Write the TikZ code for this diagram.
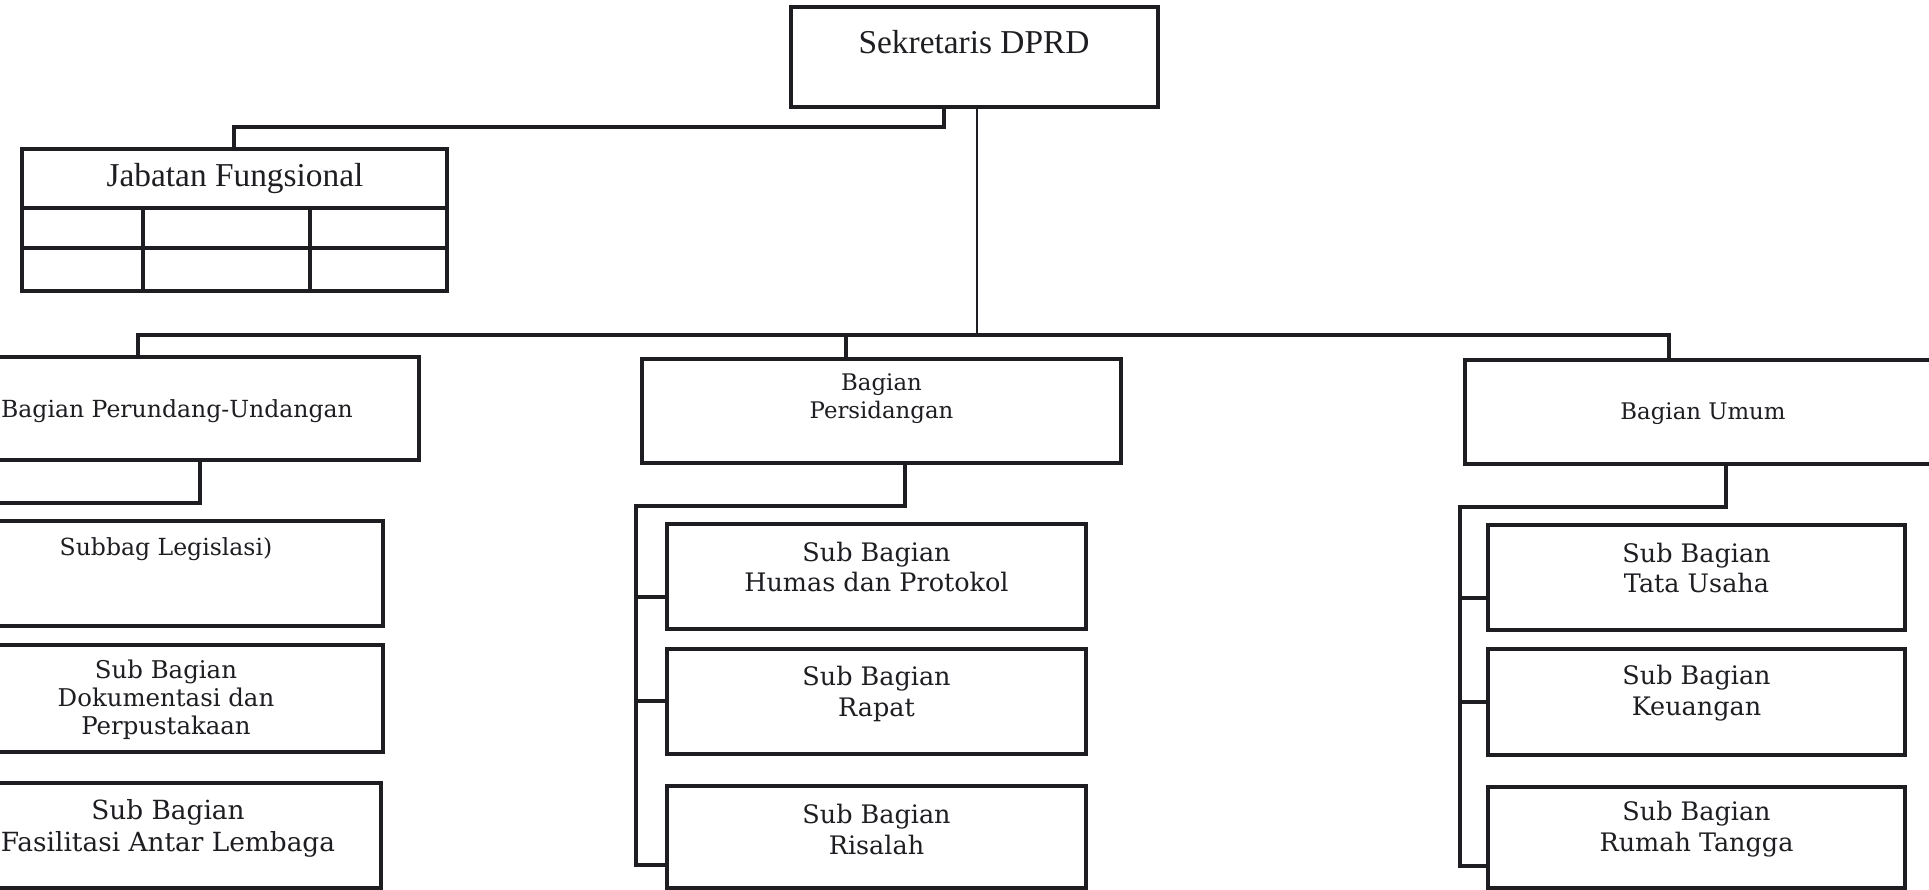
\documentclass[tikz,border=0pt]{standalone}
\usepackage{fontspec}
\setmainfont{DejaVu Serif}
\newfontfamily\headf{Liberation Serif}
\usetikzlibrary{fit}
\definecolor{ink}{HTML}{1E1E22}
\begin{document}
\begin{tikzpicture}[x=0.02cm,y=-0.02cm,
  box/.style={draw=ink, line width=2.1pt, rectangle, inner sep=0pt},
  conn/.style={draw=ink, line width=2pt, line join=miter},
  txt/.style={align=center, inner sep=0pt, text=ink},
  headtxt/.style={txt, font=\headf\fontsize{19}{23}\selectfont},
  subtxt/.style={txt, font=\fontsize{14.5}{17.6}\selectfont},
  bagtxt/.style={txt, font=\fontsize{13}{16}\selectfont}]
\clip (0,0) rectangle (1929,889);
\fill[white] (0,0) rectangle (1929,889);

% top
\node[box, fit={(791,7) (1158,107)}] (sek) {};
\node[headtxt] (sekt) at (974,42) {Sekretaris DPRD};

% jabatan fungsional
\node[box, fit={(22,149) (447,291)}] (jab) {};
\node[headtxt] (jabt) at (235,179) {Jabatan Fungsional};
\draw[box] (jab.west |- 0,208) -- (jab.east |- 0,208);
\draw[box] (jab.west |- 0,248) -- (jab.east |- 0,248);
\draw[box] (143,208) -- (jab.south -| 143,0);
\draw[box] (310,208) -- (jab.south -| 310,0);

% bagian
\node[box, fit={(-70,357) (419,460)}] (per) {};
\node[txt, font=\fontsize{13.4}{16}\selectfont] (pert) at (177,411) {Bagian Perundang-Undangan};
\node[box, fit={(642,359) (1121,463)}] (sid) {};
\node[bagtxt] (sidt) at (881.5,399) {Bagian\\Persidangan};
\node[box, fit={(1465,360) (1941,464)}] (umu) {};
\node[bagtxt] (umut) at (1703,414) {Bagian Umum};

% left sub boxes
\node[box, fit={(-51,521) (383,626)}] (leg) {};
\node[txt, font=\fontsize{13.4}{16}\selectfont] (legt) at (166,549) {Subbag Legislasi)};
\node[box, fit={(-51,645) (383,752)}] (dok) {};
\node[txt, font=\fontsize{13.9}{15.8}\selectfont] (dokt) at (166,700) {Sub Bagian\\Dokumentasi dan\\Perpustakaan};
\node[box, fit={(-51,783) (381,888)}] (fas) {};
\node[txt, font=\fontsize{15}{18.2}\selectfont] (fast) at (168,828) {Sub Bagian\\Fasilitasi Antar Lembaga};

% middle sub boxes
\node[box, fit={(667,524) (1086,629)}] (hum) {};
\node[subtxt] (humt) at (876.5,567) {Sub Bagian\\Humas dan Protokol};
\node[box, fit={(667,649) (1086,754)}] (rap) {};
\node[subtxt] (rapt) at (876.5,693.5) {Sub Bagian\\Rapat};
\node[box, fit={(667,786) (1086,888)}] (ris) {};
\node[subtxt] (rist) at (876.5,829.5) {Sub Bagian\\Risalah};

% right sub boxes
\node[box, fit={(1488,525) (1905,630)}] (tat) {};
\node[subtxt] (tatt) at (1696.5,568) {Sub Bagian\\Tata Usaha};
\node[box, fit={(1488,649) (1905,755)}] (keu) {};
\node[subtxt] (keut) at (1696.5,693.5) {Sub Bagian\\Keuangan};
\node[box, fit={(1488,787) (1905,888)}] (rum) {};
\node[subtxt] (rumt) at (1696.5,829.5) {Sub Bagian\\Rumah Tangga};

% connectors
\coordinate (jbend) at (234,127);
\draw[conn] (sek.south -| 944,0) |- (jbend) -- (jab.north -| jbend);
\coordinate (busL) at (138,335);
\coordinate (busR) at (1669,335);
\coordinate (busM) at (846,335);
\draw[conn, line width=1.5pt] (sek.south -| 977,0) -- (977,335);
\draw[conn] (per.north -| busL) -- (busL) -- (busR) -- (umu.north -| busR);
\draw[conn] (busM) -- (sid.north -| busM);

% left branch (bus runs off the left edge)
\coordinate (lbus) at (-80,503);
\draw[conn] (per.south -| 200,0) |- (lbus);
\draw[conn] (lbus) |- (leg.west);
\draw[conn] (lbus) |- (dok.west);
\draw[conn] (lbus) |- (fas.west);

% middle branch
\coordinate (mbus) at (636,506);
\draw[conn] (sid.south -| 905,0) |- (mbus) |- (ris.west |- 0,865);
\draw[conn] (mbus |- 0,597) -- (hum.west |- 0,597);
\draw[conn] (mbus |- 0,701) -- (rap.west |- 0,701);

% right branch
\coordinate (rbus) at (1460,507);
\draw[conn] (umu.south -| 1726,0) |- (rbus) |- (rum.west |- 0,866);
\draw[conn] (rbus |- 0,598) -- (tat.west |- 0,598);
\draw[conn] (rbus |- 0,702) -- (keu.west |- 0,702);
\end{tikzpicture}
\end{document}
